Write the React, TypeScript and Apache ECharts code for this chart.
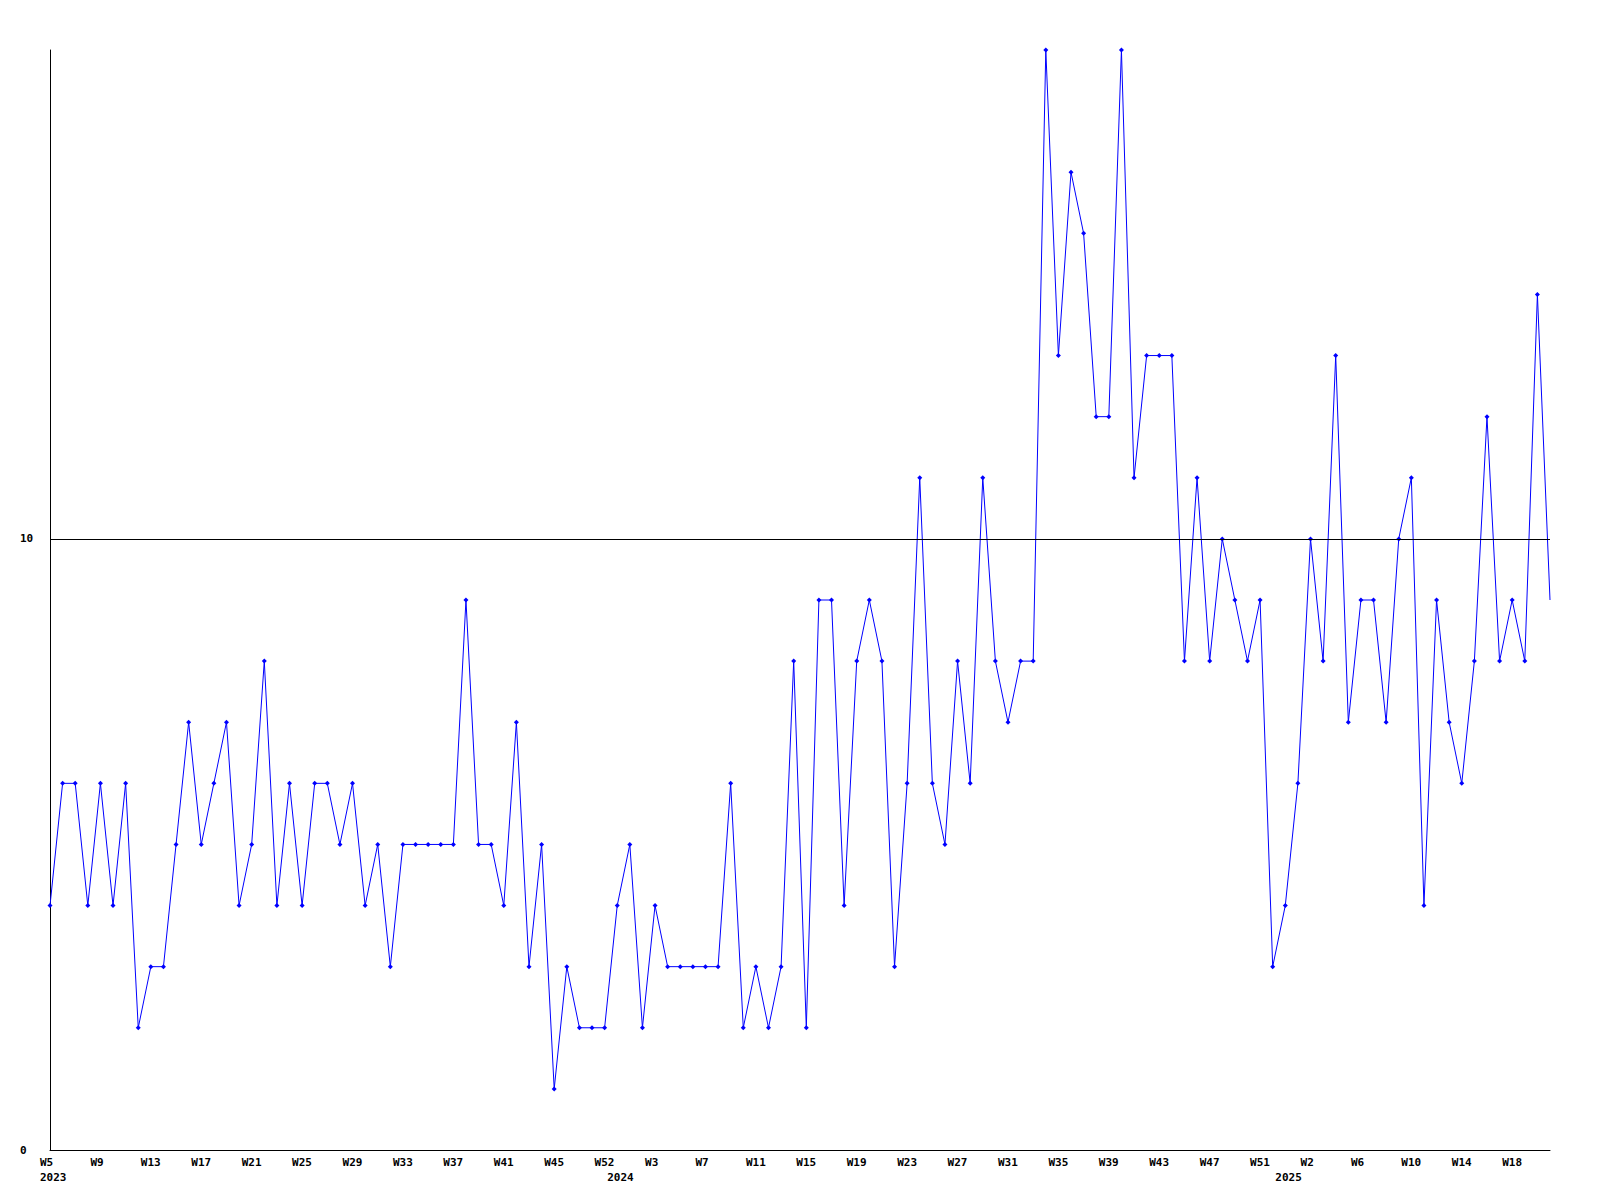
import React, { useEffect, useRef } from "react";
import * as echarts from "echarts";

// Weekly values, one per week, from 2023 W5 onward (120 weeks)
const weeklyValues: number[] = [
  4, 6, 6, 4, 6, 4, 6, 2, 3, 3,
  5, 7, 5, 6, 7, 4, 5, 8, 4, 6,
  4, 6, 6, 5, 6, 4, 5, 3, 5, 5,
  5, 5, 5, 9, 5, 5, 4, 7, 3, 5,
  1, 3, 2, 2, 2, 4, 5, 2, 4, 3,
  3, 3, 3, 3, 6, 2, 3, 2, 3, 8,
  2, 9, 9, 4, 8, 9, 8, 3, 6, 11,
  6, 5, 8, 6, 11, 8, 7, 8, 8, 18,
  13, 16, 15, 12, 12, 18, 11, 13, 13, 13,
  8, 11, 8, 10, 9, 8, 9, 3, 4, 6,
  10, 8, 13, 7, 9, 9, 7, 10, 11, 4,
  9, 7, 6, 8, 12, 8, 9, 8, 14, 9,
];

// Week tick labels, shown on every 4th week
const weekTickLabels: string[] = [
  "W5", "W9", "W13", "W17", "W21", "W25", "W29", "W33", "W37", "W41",
  "W45", "W52", "W3", "W7", "W11", "W15", "W19", "W23", "W27", "W31",
  "W35", "W39", "W43", "W47", "W51", "W2", "W6", "W10", "W14", "W18",
];
const tickEvery = 4;

// Year labels and the week index where each year begins
const yearLabels: string[] = ["2023", "2024", "2025"];
const yearStartIndex: number[] = [0, 45, 98];

const yMin = 0;
const yMax = 18;
const yInterval = 10;
const referenceLine = 10;

const FONT = "DejaVu Sans Mono";

export default function App() {
  const ref = useRef<HTMLDivElement>(null);

  useEffect(() => {
    if (!ref.current) return;
    const chart = echarts.init(ref.current, undefined, { renderer: "svg" });
    const categories = weeklyValues.map((_, i) => String(i));
    const lastIdx = weeklyValues.length - 1;

    const option: any = {
      animation: false,
      backgroundColor: "#ffffff",
      grid: { left: 50, right: 50, top: 50, bottom: 50, containLabel: false },
      xAxis: {
        type: "category",
        data: categories,
        boundaryGap: false,
        axisLine: { show: true, lineStyle: { color: "#000000", width: 1 } },
        axisTick: { show: false },
        splitLine: { show: false },
        axisLabel: {
          interval: (index: number) =>
            index % tickEvery === 0 || yearStartIndex.indexOf(index) >= 0,
          margin: 5,
          formatter: (_v: string, index: number) => {
            const week =
              index % tickEvery === 0 ? weekTickLabels[index / tickEvery] ?? " " : " ";
            const yi = yearStartIndex.indexOf(index);
            if (yi >= 0) return `{w|${week}}\n{w|${yearLabels[yi]}}`;
            return `{w|${week}}`;
          },
          rich: {
            w: {
              width: 20,
              align: "left",
              fontFamily: FONT,
              fontWeight: "bold",
              fontSize: 11,
              lineHeight: 15,
              color: "#000000",
            },
          },
        },
      },
      yAxis: {
        type: "value",
        min: yMin,
        max: yMax,
        interval: yInterval,
        axisLine: { show: true, lineStyle: { color: "#000000", width: 1 } },
        axisTick: { show: false },
        splitLine: { show: false },
        axisLabel: {
          showMaxLabel: false,
          align: "left",
          margin: 30,
          fontFamily: FONT,
          fontWeight: "bold",
          fontSize: 11,
          color: "#000000",
        },
      },
      series: [
        {
          type: "line",
          data: weeklyValues.map((v, i) =>
            i === lastIdx ? { value: v, symbol: "none" } : v
          ),
          showSymbol: true,
          showAllSymbol: true,
          symbol: "diamond",
          symbolSize: 5,
          lineStyle: { color: "#0000ff", width: 1 },
          itemStyle: { color: "#0000ff", borderWidth: 0 },
          emphasis: { disabled: true },
          markLine: {
            silent: true,
            symbol: "none",
            label: { show: false },
            lineStyle: { color: "#000000", width: 1, type: "solid" },
            data: [{ yAxis: referenceLine }],
          },
          z: 3,
        },
      ],
    };
    chart.setOption(option);
    return () => chart.dispose();
  }, []);

  return (
    <div
      ref={ref}
      style={{ position: "fixed", left: 0, top: 0, width: 1600, height: 1200, background: "#fff" }}
    />
  );
}
